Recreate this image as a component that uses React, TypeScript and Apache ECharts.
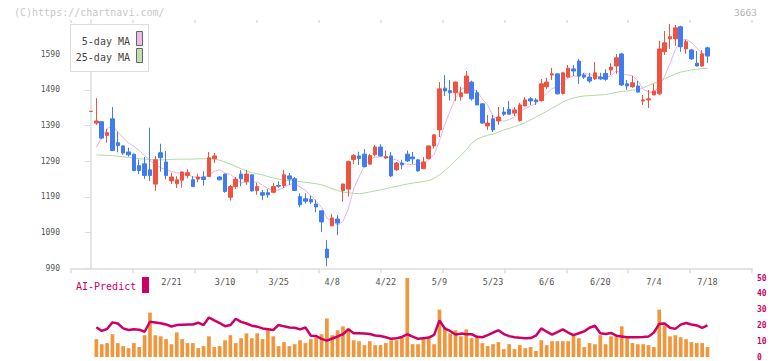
import React, { useEffect, useRef } from 'react';
import * as echarts from 'echarts';

const dates = [
  '1/30', '1/31', '2/3', '2/4', '2/5', '2/6', '2/7', '2/10', '2/12', '2/13', '2/14',
  '2/17', '2/18', '2/19', '2/20', '2/21', '2/25', '2/26', '2/27', '2/28',
  '3/3', '3/4', '3/5', '3/6', '3/7', '3/10', '3/11', '3/12', '3/13', '3/14',
  '3/17', '3/18', '3/19', '3/21', '3/24', '3/25', '3/26', '3/27', '3/28',
  '3/31', '4/1', '4/2', '4/3', '4/4', '4/7', '4/8', '4/9', '4/10', '4/11',
  '4/14', '4/15', '4/16', '4/17', '4/18', '4/21', '4/22', '4/23', '4/24', '4/25',
  '4/28', '4/30', '5/1', '5/2', '5/7', '5/8', '5/9', '5/12', '5/13', '5/14', '5/15', '5/16',
  '5/19', '5/20', '5/21', '5/22', '5/23', '5/26', '5/27', '5/28', '5/29', '5/30',
  '6/2', '6/3', '6/4', '6/5', '6/6', '6/9', '6/10', '6/11', '6/12', '6/13',
  '6/16', '6/17', '6/18', '6/19', '6/20', '6/23', '6/24', '6/25', '6/26', '6/27',
  '6/30', '7/1', '7/2', '7/3', '7/4', '7/7', '7/8', '7/9', '7/10', '7/11',
  '7/14', '7/15', '7/16', '7/17', '7/18',
];

const tickLabels = ['2/21', '3/10', '3/25', '4/8', '4/22', '5/9', '5/23', '6/6', '6/20', '7/4', '7/18'];

const opens = [
  1430, 1397, 1401, 1362, 1409, 1342, 1333, 1316, 1310, 1278, 1283, 1266, 1226, 1314, 1288, 1235,
  1227, 1237, 1250, 1238, 1240, 1246, 1247, 1297, 1246, 1254, 1189, 1219, 1254, 1233, 1252, 1208,
  1202, 1202, 1203, 1222, 1222, 1249, 1241, 1191, 1185, 1183, 1170, 1151, 1044, 1109, 1128, 1208,
  1212, 1295, 1305, 1310, 1282, 1308, 1330, 1299, 1305, 1266, 1285, 1310, 1302, 1294, 1269, 1297,
  1333, 1378, 1495, 1488, 1482, 1471, 1481, 1512, 1482, 1451, 1389, 1409, 1403, 1428, 1436, 1425,
  1404, 1445, 1465, 1462, 1460, 1499, 1532, 1535, 1480, 1526, 1549, 1571, 1532, 1526, 1521, 1526,
  1536, 1546, 1557, 1591, 1507, 1499, 1501, 1459, 1462, 1476, 1479, 1597, 1633, 1633, 1667, 1605,
  1602, 1565, 1557, 1608,
];
const closes = [
  1430, 1403, 1355, 1370, 1320, 1334, 1313, 1308, 1264, 1264, 1250, 1250, 1294, 1300, 1250, 1246,
  1238, 1260, 1258, 1219, 1246, 1239, 1300, 1305, 1238, 1205, 1219, 1240, 1241, 1254, 1207, 1219,
  1195, 1196, 1219, 1220, 1252, 1240, 1208, 1168, 1178, 1176, 1162, 1120, 1020, 1131, 1117, 1226,
  1289, 1306, 1298, 1275, 1306, 1330, 1305, 1303, 1249, 1285, 1280, 1291, 1297, 1263, 1288, 1333,
  1364, 1493, 1487, 1482, 1512, 1482, 1529, 1465, 1448, 1397, 1397, 1378, 1414, 1422, 1422, 1434,
  1448, 1462, 1459, 1457, 1507, 1512, 1535, 1479, 1538, 1551, 1543, 1529, 1526, 1515, 1538, 1521,
  1520, 1554, 1580, 1504, 1501, 1510, 1484, 1462, 1465, 1487, 1605, 1622, 1639, 1664, 1611, 1625,
  1577, 1557, 1591, 1585,
];
const lows = [
  1430, 1392, 1352, 1342, 1320, 1315, 1308, 1303, 1262, 1254, 1241, 1235, 1207, 1261, 1239, 1226,
  1215, 1216, 1242, 1218, 1231, 1222, 1246, 1285, 1237, 1202, 1180, 1212, 1220, 1224, 1205, 1196,
  1181, 1188, 1200, 1216, 1215, 1224, 1207, 1161, 1172, 1170, 1147, 1092, 996, 1108, 1083, 1177,
  1191, 1282, 1280, 1273, 1281, 1304, 1303, 1297, 1246, 1263, 1268, 1288, 1282, 1261, 1268, 1296,
  1326, 1358, 1473, 1460, 1459, 1460, 1480, 1460, 1447, 1395, 1378, 1372, 1392, 1417, 1420, 1417,
  1401, 1444, 1448, 1448, 1457, 1493, 1518, 1477, 1477, 1525, 1529, 1507, 1521, 1510, 1518, 1518,
  1516, 1532, 1535, 1501, 1490, 1496, 1482, 1448, 1439, 1475, 1476, 1588, 1605, 1613, 1597, 1591,
  1574, 1556, 1555, 1566,
];
const highs = [
  1430, 1467, 1401, 1381, 1442, 1373, 1334, 1328, 1311, 1295, 1302, 1384, 1305, 1339, 1319, 1258,
  1248, 1262, 1268, 1248, 1255, 1262, 1316, 1313, 1248, 1255, 1224, 1246, 1265, 1266, 1253, 1230,
  1210, 1212, 1229, 1234, 1266, 1257, 1246, 1200, 1200, 1194, 1182, 1152, 1069, 1142, 1139, 1228,
  1292, 1310, 1317, 1324, 1310, 1336, 1338, 1320, 1316, 1288, 1294, 1320, 1316, 1295, 1302, 1334,
  1365, 1512, 1532, 1518, 1513, 1499, 1543, 1516, 1490, 1452, 1420, 1420, 1442, 1442, 1459, 1442,
  1454, 1470, 1470, 1467, 1521, 1524, 1552, 1536, 1541, 1560, 1560, 1577, 1538, 1538, 1568, 1538,
  1548, 1565, 1591, 1594, 1518, 1529, 1515, 1476, 1490, 1507, 1628, 1655, 1675, 1672, 1670, 1630,
  1605, 1599, 1602, 1611,
];

const ma5 = [
  null, 1329, 1358, 1380, 1391, 1372, 1356, 1341, 1332, 1320, 1306, 1292, 1280, 1272, 1266, 1262,
  1258, 1256, 1252, 1247, 1244, 1244, 1252, 1262, 1266, 1257, 1253, 1241, 1229, 1232, 1232, 1232,
  1223, 1214, 1207, 1210, 1216, 1225, 1228, 1218, 1209, 1194, 1178, 1161, 1131, 1122, 1110, 1122,
  1156, 1213, 1246, 1278, 1294, 1302, 1302, 1303, 1298, 1294, 1284, 1282, 1280, 1283, 1284, 1294,
  1309, 1348, 1393, 1432, 1468, 1491, 1498, 1494, 1487, 1464, 1447, 1417, 1407, 1402, 1407, 1414,
  1428, 1438, 1445, 1452, 1467, 1479, 1494, 1498, 1514, 1523, 1529, 1528, 1537, 1533, 1530, 1526,
  1524, 1530, 1543, 1536, 1532, 1530, 1516, 1492, 1484, 1482, 1501, 1528, 1564, 1603, 1628, 1632,
  1623, 1607, 1592, 1587,
];
const ma25 = [
  null, 1308, 1307, 1307, 1306, 1304, 1302, 1301, 1299, 1297, 1296, 1295, 1294, 1294, 1294, 1295,
  1296, 1296, 1296, 1296, 1297, 1297, 1297, 1297, 1293, 1288, 1282, 1276, 1269, 1263, 1258, 1255,
  1252, 1247, 1243, 1240, 1237, 1236, 1235, 1233, 1231, 1229, 1227, 1224, 1219, 1213, 1208, 1204,
  1202, 1200, 1199, 1201, 1204, 1207, 1210, 1213, 1217, 1220, 1223, 1226, 1229, 1231, 1233, 1236,
  1242, 1252, 1264, 1277, 1292, 1306, 1322, 1340, 1352, 1358, 1363, 1366, 1372, 1378, 1382, 1387,
  1392, 1398, 1406, 1414, 1422, 1430, 1439, 1447, 1456, 1463, 1467, 1471, 1473, 1474, 1475, 1476,
  1477, 1480, 1483, 1486, 1487, 1489, 1491, 1496, 1503, 1508, 1513, 1521, 1528, 1535, 1540, 1543,
  1546, 1548, 1550, 1551,
];

const volume = [
  null, 11.3, 8.1, 8.8, 14.4, 8.8, 6.9, 5.6, 8.8, 6.3, 13.8, 28.1, 13.8, 13.1, 11.3, 8.1,
  15.6, 11.3, 8.8, 8.8, 5.6, 6.9, 13.1, 6.3, 6.9, 10.6, 13.8, 8.8, 11.9, 15.0, 11.9, 15.0,
  11.3, 16.9, 13.1, 6.9, 9.4, 6.9, 8.1, 10.6, 8.8, 11.3, 12.5, 14.4, 24.4, 13.8, 16.9, 19.4,
  18.1, 10.6, 10.0, 7.5, 10.0, 7.5, 7.5, 8.8, 10.6, 10.6, 12.5, 50, 8.1, 8.1, 11.3, 11.9,
  8.1, 30, 18.8, 15, 16.9, 13.1, 17.5, 11.9, 12.5, 8.8, 6.9, 8.1, 9.4, 5.0, 8.1, 5.0,
  7.5, 5.6, 6.3, 3.8, 10.6, 7.5, 10, 10, 10, 10, 13.8, 11.9, 6.3, 8.8, 8.1, 13.8,
  8.1, 13.1, 13.1, 19.4, 11.9, 8.8, 8.1, 8.1, 7.5, 6.3, 30, 20, 13.1, 13.8, 12.5, 11.3,
  9.4, 8.8, 8.8, 6.3,
];
const aiPredict = [
  null, 18.8, 16.5, 17.7, 21.9, 21.2, 18.1, 17.1, 17.5, 17.3, 16.0, 22.3, 21.9, 21.4, 20.6, 19.3,
  20.2, 20.4, 20.6, 20.6, 21.7, 20.2, 25.0, 23.2, 21.5, 19.5, 20.2, 24.2, 22.2, 21.2, 19.8, 19.2,
  18.1, 17.6, 17.1, 20.3, 19.4, 18.7, 18.5, 17.5, 18.7, 13.5, 13.3, 11.5, 10.4, 11.7, 13.0, 14.4,
  17.5, 15.0, 15.0, 14.8, 14.6, 13.6, 13.3, 12.5, 11.5, 11.9, 12.7, 14.4, 12.9, 11.5, 11.9, 12.3,
  14.0, 23.1, 18.0, 16.5, 14.2, 14.8, 14.4, 14.4, 12.8, 12.5, 13.8, 15.5, 16.9, 14.5, 13.2, 12.5,
  12.2, 11.9, 12.0, 13.5, 18.1, 16.0, 14.2, 15.8, 17.5, 15.5, 13.8, 15.0, 16.2, 18.5, 19.8, 15.0,
  14.6, 15.2, 13.5, 13.0, 12.5, 12.5, 12.5, 12.6, 12.9, 15.5, 21.0, 21.2, 18.5, 17.8, 20.5, 21.5,
  20.6, 20.0, 18.5, 20.0,
];

const priceTicks = [990, 1090, 1190, 1290, 1390, 1490, 1590];
const volTicks = [0, 10, 20, 30, 40, 50];

const RED = '#ef5340';
const BLUE = '#3f7cf0';
const FONT = '"DejaVu Sans Mono", "Liberation Mono", monospace';

export default function App() {
  const ref = useRef<HTMLDivElement>(null);

  useEffect(() => {
    if (!ref.current) return;
    const chart = echarts.init(ref.current, undefined, { renderer: 'svg' });

    const X_MIN = -3.73;
    const X_MAX = 123.3;
    const xTicks = Array.from({ length: 12 }, (_, k) => X_MIN + (k * (X_MAX - X_MIN)) / 11);
    const labelIdx = tickLabels.map((l) => dates.indexOf(l));

    const candles = dates.map((_, i) => [i, opens[i], closes[i], lows[i], highs[i]]);
    const toPts = (arr: (number | null)[]) =>
      arr.map((v, i) => (v == null ? null : [i, v])).filter((p) => p !== null);

    const option: any = {
      animation: false,
      backgroundColor: '#fff',
      grid: [
        { left: 71, right: 20, top: 20, bottom: 92.7 },
        { left: 71, right: 20, top: 278, bottom: 2 },
      ],
      xAxis: [
        {
          type: 'value',
          gridIndex: 0,
          min: X_MIN,
          max: X_MAX,
          axisLine: { show: true, lineStyle: { color: '#dcdcdc', width: 1.5 } },
          axisTick: {
            show: true,
            length: 5,
            customValues: xTicks,
            lineStyle: { color: '#dcdcdc', width: 1.5 },
          },
          axisLabel: {
            show: true,
            customValues: labelIdx,
            formatter: (v: number) => dates[Math.round(v)] ?? '',
            color: '#555',
            fontFamily: FONT,
            fontSize: 8.5,
            margin: 9,
          },
          splitLine: { show: false },
        },
        {
          type: 'value',
          gridIndex: 0,
          min: X_MIN,
          max: X_MAX,
          axisLine: { show: false },
          axisTick: {
            show: true,
            inside: true,
            length: 3,
            customValues: xTicks,
            lineStyle: { color: '#dcdcdc', width: 1.5 },
          },
          axisLabel: { show: false },
          splitLine: { show: false },
        },
        {
          type: 'value',
          gridIndex: 1,
          min: X_MIN,
          max: X_MAX,
          show: false,
        },
      ],
      yAxis: [
        {
          type: 'value',
          gridIndex: 0,
          min: 990,
          max: 1686,
          axisLine: { show: true, lineStyle: { color: '#dcdcdc', width: 1.5 } },
          axisTick: {
            show: true,
            length: 6,
            customValues: priceTicks,
            lineStyle: { color: '#dcdcdc', width: 1 },
          },
          axisLabel: {
            customValues: priceTicks,
            formatter: (v: number) => String(Math.round(v)),
            color: '#555',
            fontFamily: FONT,
            fontSize: 8,
            margin: 11,
          },
          splitLine: { show: false },
        },
        {
          type: 'value',
          gridIndex: 1,
          min: 0,
          max: 50,
          position: 'right',
          axisLine: { show: false },
          axisTick: { show: false },
          axisLabel: {
            customValues: volTicks,
            formatter: (v: number) => String(Math.round(v)),
            color: '#cc0066',
            fontFamily: FONT,
            fontSize: 8,
            fontWeight: 'bold',
            margin: 5,
            align: 'left',
          },
          splitLine: { show: false },
        },
      ],
      series: [
        {
          name: '25-day MA',
          type: 'line',
          xAxisIndex: 0,
          yAxisIndex: 0,
          data: toPts(ma25),
          showSymbol: false,
          lineStyle: { color: '#b2d9a2', width: 1 },
          z: 2,
        },
        {
          name: '5-day MA',
          type: 'line',
          xAxisIndex: 0,
          yAxisIndex: 0,
          data: toPts(ma5),
          showSymbol: false,
          lineStyle: { color: '#e6b2ec', width: 1 },
          z: 2,
        },
        {
          name: 'price',
          type: 'candlestick',
          xAxisIndex: 0,
          yAxisIndex: 0,
          data: candles,
          encode: { x: 0, y: [1, 2, 3, 4] },
          barWidth: 4,
          itemStyle: {
            color: RED,
            color0: BLUE,
            borderColor: RED,
            borderColor0: BLUE,
            borderWidth: 1,
          },
          z: 3,
        },
        {
          name: 'volume',
          type: 'bar',
          xAxisIndex: 2,
          yAxisIndex: 1,
          data: toPts(volume),
          barWidth: 3.7,
          itemStyle: { color: '#f0963c' },
        },
        {
          name: 'AI-Predict',
          type: 'line',
          xAxisIndex: 2,
          yAxisIndex: 1,
          data: toPts(aiPredict),
          showSymbol: false,
          lineStyle: { color: '#cc0066', width: 2.5 },
          z: 3,
        },
      ],
      graphic: [
        {
          type: 'text',
          left: 14,
          top: 7,
          style: { text: '(C)https://chartnavi.com/', fill: '#c8c8c8', font: `10px ${FONT}` },
        },
        {
          type: 'text',
          right: 15,
          top: 7,
          style: { text: '3663', fill: '#b4b4b4', font: `9.5px ${FONT}` },
        },
        {
          type: 'rect',
          shape: { x: 70.5, y: 24.5, width: 78, height: 47 },
          style: { fill: '#fff', stroke: '#dddddd', lineWidth: 1 },
          z: 10,
        },
        {
          type: 'text',
          x: 130,
          y: 41,
          style: {
            text: '5-day MA',
            fill: '#444',
            font: `10px ${FONT}`,
            align: 'right',
            verticalAlign: 'middle',
          },
          z: 11,
        },
        {
          type: 'text',
          x: 130,
          y: 57,
          style: {
            text: '25-day MA',
            fill: '#444',
            font: `10px ${FONT}`,
            align: 'right',
            verticalAlign: 'middle',
          },
          z: 11,
        },
        {
          type: 'rect',
          shape: { x: 136.5, y: 31.5, width: 6, height: 14 },
          style: { fill: '#ecbcec', stroke: '#666', lineWidth: 1 },
          z: 11,
        },
        {
          type: 'rect',
          shape: { x: 136.5, y: 48.5, width: 6, height: 14 },
          style: { fill: '#c0e0b0', stroke: '#666', lineWidth: 1 },
          z: 11,
        },
        {
          type: 'text',
          x: 76,
          y: 286,
          style: {
            text: 'AI-Predict',
            fill: '#cc0066',
            font: `10px ${FONT}`,
            verticalAlign: 'middle',
          },
          z: 11,
        },
        {
          type: 'rect',
          shape: { x: 142, y: 277, width: 7, height: 16 },
          style: { fill: '#cc0066' },
          z: 11,
        },
      ],
    };

    chart.setOption(option);
    return () => chart.dispose();
  }, []);

  return (
    <div
      ref={ref}
      style={{ position: 'fixed', left: 0, top: 0, width: 772, height: 361, background: '#fff' }}
    />
  );
}
